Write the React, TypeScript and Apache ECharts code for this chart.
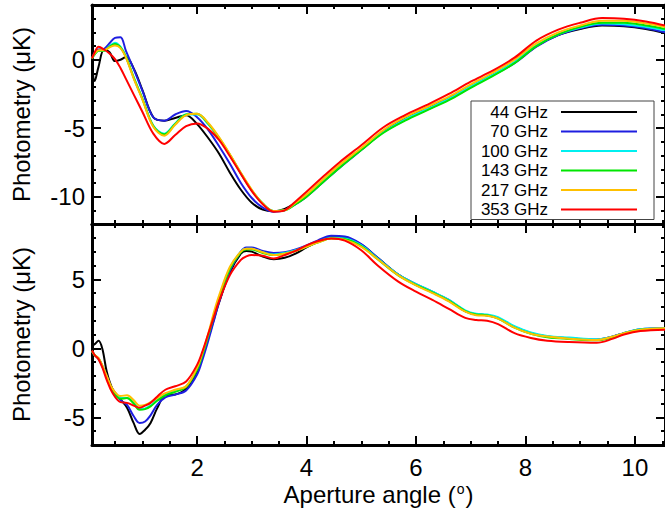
import React, { useEffect, useRef } from 'react';
import * as echarts from 'echarts';

const FREQS = ['44 GHz', '70 GHz', '100 GHz', '143 GHz', '217 GHz', '353 GHz'];
const COLORS = ['#000000', '#1e1ee0', '#00f0f0', '#00e600', '#ffc000', '#ff0000'];

// x ticks
const X_MAJOR = [2, 4, 6, 8, 10];
const X_MINOR = [0.5, 1, 1.5, 2, 2.5, 3, 3.5, 4, 4.5, 5, 5.5, 6, 6.5, 7, 7.5, 8, 8.5, 9, 9.5, 10, 10.5];
const TOP_Y_MAJOR = [-10, -5, 0];
const TOP_Y_MINOR = [-11, -10, -9, -8, -7, -6, -5, -4, -3, -2, -1, 0, 1, 2, 3];
const BOT_Y_MAJOR = [-5, 0, 5];
const BOT_Y_MINOR = [-6, -5, -4, -3, -2, -1, 0, 1, 2, 3, 4, 5, 6, 7, 8];

// Top panel
const topX = [0.08, 0.13, 0.2, 0.3, 0.4, 0.5, 0.6, 0.7, 0.85, 1.0, 1.2, 1.4, 1.6, 1.8, 2.0, 2.2, 2.4, 2.6, 2.8, 3.0, 3.2, 3.4, 3.6, 3.8, 4.0, 4.3, 4.6, 5.0, 5.4, 5.8, 6.2, 6.6, 7.0, 7.4, 7.8, 8.2, 8.6, 9.0, 9.4, 9.8, 10.2, 10.55];
const top44 = [0.1, -1.55, -0.5, 0.75, 0.55, -0.1, 0.0, 0.2, -0.7, -2.2, -4.2, -4.45, -4.25, -4.05, -4.7, -5.7, -6.85, -8.25, -9.5, -10.45, -10.95, -11.07, -10.9, -10.45, -9.9, -8.85, -7.8, -6.55, -5.25, -4.3, -3.55, -2.8, -1.95, -1.1, -0.2, 1.0, 1.8, 2.25, 2.5, 2.45, 2.25, 1.95];
const top70 = [0.1, 0.5, 0.75, 0.8, 1.2, 1.6, 1.65, 0.65, -0.75, -2.25, -4.2, -4.45, -4.0, -3.75, -4.2, -5.1, -6.3, -7.6, -9.0, -10.1, -10.8, -11.1, -11.0, -10.55, -10.0, -8.95, -7.9, -6.6, -5.3, -4.4, -3.65, -2.9, -2.0, -1.15, -0.25, 0.95, 1.8, 2.3, 2.55, 2.5, 2.3, 2.0];
const top100 = [0.1, 0.4, 0.65, 0.65, 1.0, 1.25, 0.95, 0.25, -1.35, -2.8, -4.8, -5.4, -4.65, -4.0, -4.0, -4.7, -5.7, -6.95, -8.3, -9.55, -10.5, -11.05, -11.0, -10.5, -9.95, -8.9, -7.85, -6.55, -5.3, -4.35, -3.6, -2.85, -1.95, -1.1, -0.15, 1.05, 1.85, 2.35, 2.65, 2.6, 2.4, 2.15];
const top143 = [0.1, 0.4, 0.65, 0.65, 0.95, 1.15, 0.9, 0.2, -1.4, -2.85, -4.85, -5.45, -4.7, -4.0, -3.95, -4.65, -5.7, -6.95, -8.3, -9.55, -10.5, -11.05, -11.0, -10.55, -10.0, -8.95, -7.9, -6.6, -5.35, -4.45, -3.7, -2.95, -2.05, -1.2, -0.25, 1.0, 1.85, 2.4, 2.7, 2.7, 2.5, 2.25];
const top217 = [0.1, 0.45, 0.7, 0.7, 0.9, 1.05, 0.85, 0.15, -1.45, -2.9, -4.9, -5.55, -4.75, -4.05, -3.95, -4.6, -5.65, -6.9, -8.25, -9.5, -10.5, -11.05, -11.0, -10.45, -9.85, -8.75, -7.7, -6.45, -5.15, -4.2, -3.45, -2.7, -1.8, -0.95, 0.0, 1.2, 2.0, 2.5, 2.85, 2.85, 2.65, 2.4];
const top353 = [0.1, 0.55, 0.95, 0.75, 0.45, 0.05, -0.6, -1.4, -2.6, -3.8, -5.4, -6.15, -5.5, -4.85, -4.65, -5.05, -5.85, -7.05, -8.35, -9.6, -10.55, -11.1, -11.0, -10.35, -9.65, -8.55, -7.5, -6.25, -4.95, -4.05, -3.3, -2.5, -1.6, -0.8, 0.15, 1.4, 2.2, 2.7, 3.05, 3.0, 2.8, 2.5];

// Bottom panel
const botX = [0.08, 0.13, 0.2, 0.27, 0.35, 0.45, 0.6, 0.72, 0.84, 0.95, 1.05, 1.15, 1.27, 1.42, 1.6, 1.8, 2.0, 2.1, 2.2, 2.3, 2.4, 2.6, 2.8, 2.9, 3.0, 3.2, 3.4, 3.6, 3.8, 4.0, 4.2, 4.45, 4.7, 5.0, 5.3, 5.67, 6.0, 6.3, 6.6, 6.9, 7.1, 7.3, 7.5, 7.8, 8.1, 8.4, 8.8, 9.3, 9.6, 9.8, 10.1, 10.55];
const bot44 = [0.2, 0.3, 0.55, -0.05, -1.7, -2.9, -3.7, -4.3, -5.4, -6.2, -5.9, -5.4, -4.35, -3.4, -3.35, -2.9, -1.7, -0.6, 0.7, 2.0, 3.3, 5.5, 6.85, 7.05, 7.0, 6.65, 6.45, 6.55, 6.85, 7.3, 7.7, 8.05, 8.0, 7.5, 6.55, 5.35, 4.6, 4.05, 3.45, 2.7, 2.45, 2.4, 2.2, 1.55, 1.1, 0.85, 0.72, 0.62, 0.85, 1.1, 1.35, 1.45];
const bot70 = [-0.2, -0.5, -0.75, -1.3, -2.0, -3.0, -3.75, -4.1, -4.9, -5.4, -5.3, -4.85, -4.1, -3.55, -3.35, -3.05, -1.9, -0.8, 0.5, 1.9, 3.3, 5.6, 7.0, 7.3, 7.3, 7.05, 6.9, 6.95, 7.15, 7.45, 7.8, 8.15, 8.1, 7.55, 6.55, 5.35, 4.65, 4.1, 3.5, 2.7, 2.45, 2.4, 2.2, 1.55, 1.1, 0.85, 0.72, 0.62, 0.85, 1.1, 1.38, 1.45];
const bot100 = [-0.2, -0.5, -0.75, -1.3, -2.1, -3.0, -3.6, -3.6, -3.9, -4.4, -4.35, -4.15, -3.75, -3.35, -3.1, -2.75, -1.5, -0.4, 0.9, 2.3, 3.6, 5.8, 7.0, 7.2, 7.2, 6.95, 6.8, 6.9, 7.1, 7.4, 7.7, 8.0, 7.95, 7.45, 6.5, 5.35, 4.65, 4.1, 3.5, 2.75, 2.5, 2.45, 2.25, 1.6, 1.15, 0.9, 0.78, 0.65, 0.85, 1.1, 1.38, 1.45];
const bot143 = [-0.2, -0.5, -0.75, -1.3, -2.1, -3.0, -3.65, -3.6, -4.0, -4.45, -4.4, -4.2, -3.8, -3.4, -3.15, -2.8, -1.55, -0.45, 0.85, 2.25, 3.55, 5.75, 6.95, 7.15, 7.15, 6.9, 6.75, 6.85, 7.05, 7.35, 7.65, 7.95, 7.9, 7.4, 6.45, 5.3, 4.6, 4.05, 3.45, 2.7, 2.45, 2.4, 2.15, 1.5, 1.05, 0.8, 0.68, 0.58, 0.8, 1.08, 1.35, 1.42];
const bot217 = [-0.2, -0.5, -0.7, -1.25, -2.0, -2.9, -3.45, -3.4, -3.75, -4.15, -4.1, -3.9, -3.6, -3.25, -3.0, -2.75, -1.4, -0.3, 1.0, 2.5, 3.8, 5.9, 7.0, 7.2, 7.2, 6.95, 6.75, 6.85, 7.05, 7.35, 7.65, 7.95, 7.85, 7.35, 6.45, 5.3, 4.55, 4.0, 3.4, 2.65, 2.4, 2.35, 2.15, 1.5, 1.05, 0.85, 0.7, 0.6, 0.85, 1.1, 1.35, 1.45];
const bot353 = [-0.15, -0.5, -0.8, -1.4, -2.3, -3.2, -3.9, -3.95, -4.15, -4.3, -4.15, -3.95, -3.5, -3.0, -2.75, -2.4, -1.2, -0.2, 1.0, 2.2, 3.4, 5.3, 6.4, 6.65, 6.75, 6.7, 6.5, 6.75, 7.05, 7.45, 7.75, 7.95, 7.8, 7.1, 6.0, 4.85, 4.1, 3.5, 2.85, 2.2, 2.05, 2.0, 1.75, 1.1, 0.75, 0.55, 0.45, 0.4, 0.7, 1.0, 1.25, 1.35];

const TOP_SERIES = [top44, top70, top100, top143, top217, top353];
const BOT_SERIES = [bot44, bot70, bot100, bot143, bot217, bot353];

const FONT = '"Liberation Sans", Arial, Helvetica, sans-serif';
const X_MIN = 0.08;
const X_MAX = 10.55;

function xAxis(gridIndex: number, position: string, ticks: number[], len: number, showLine: boolean, labels: boolean) {
  const ax: any = {
    type: 'value', gridIndex, position, min: X_MIN, max: X_MAX,
    axisLine: { show: showLine, onZero: false, lineStyle: { color: '#000', width: 3 } },
    axisTick: { show: true, inside: true, length: len, customValues: ticks, lineStyle: { color: '#000', width: 2 } },
    axisLabel: labels
      ? { show: true, customValues: X_MAJOR, color: '#000', fontSize: 24, fontFamily: FONT, margin: 10 }
      : { show: false },
    splitLine: { show: false },
  };
  if (labels) {
    ax.name = '{a|Aperture angle (}{s|o}{a|)}';
    ax.nameLocation = 'middle';
    ax.nameGap = 37;
    ax.nameTextStyle = {
      color: '#000', fontSize: 24, fontFamily: FONT,
      rich: {
        a: { fontSize: 24, fontFamily: FONT, color: '#000' },
        s: { fontSize: 14, fontFamily: FONT, color: '#000', verticalAlign: 'top', padding: [0, 1, 0, 1] },
      },
    };
  }
  return ax;
}

function yAxis(gridIndex: number, position: string, min: number, max: number, ticks: number[], len: number, showLine: boolean, labels: number[] | null) {
  const ax: any = {
    type: 'value', gridIndex, position, min, max,
    axisLine: { show: showLine, onZero: false, lineStyle: { color: '#000', width: 3 } },
    axisTick: { show: true, inside: true, length: len, customValues: ticks, lineStyle: { color: '#000', width: 2 } },
    axisLabel: labels
      ? { show: true, customValues: labels, color: '#000', fontSize: 24, fontFamily: FONT, margin: 7 }
      : { show: false },
    splitLine: { show: false },
  };
  if (labels) {
    ax.name = 'Photometry (μK)';
    ax.nameLocation = 'middle';
    ax.nameGap = 59;
    ax.nameTextStyle = { color: '#000', fontSize: 24, fontFamily: FONT };
  }
  return ax;
}

function buildOption() {
  const xAxes = [
    xAxis(0, 'bottom', X_MAJOR, 9, true, false),
    xAxis(0, 'bottom', X_MINOR, 4, false, false),
    xAxis(0, 'top', X_MAJOR, 9, true, false),
    xAxis(0, 'top', X_MINOR, 4, false, false),
    xAxis(1, 'bottom', X_MAJOR, 9, true, true),
    xAxis(1, 'bottom', X_MINOR, 4, false, false),
    xAxis(1, 'top', X_MAJOR, 9, true, false),
    xAxis(1, 'top', X_MINOR, 4, false, false),
  ];
  const yAxes = [
    yAxis(0, 'left', -12, 4, TOP_Y_MAJOR, 9, true, TOP_Y_MAJOR),
    yAxis(0, 'left', -12, 4, TOP_Y_MINOR, 4, false, null),
    yAxis(0, 'right', -12, 4, TOP_Y_MAJOR, 9, true, null),
    yAxis(0, 'right', -12, 4, TOP_Y_MINOR, 4, false, null),
    yAxis(1, 'left', -7, 9, BOT_Y_MAJOR, 9, true, BOT_Y_MAJOR),
    yAxis(1, 'left', -7, 9, BOT_Y_MINOR, 4, false, null),
    yAxis(1, 'right', -7, 9, BOT_Y_MAJOR, 9, true, null),
    yAxis(1, 'right', -7, 9, BOT_Y_MINOR, 4, false, null),
  ];
  const series: any[] = [];
  FREQS.forEach((name, k) => {
    series.push({
      type: 'line', name, xAxisIndex: 0, yAxisIndex: 0,
      data: topX.map((x, i) => [x, TOP_SERIES[k][i]]),
      smooth: 0.35, showSymbol: false, symbol: 'none',
      lineStyle: { color: COLORS[k], width: 2 }, itemStyle: { color: COLORS[k] },
      z: 2 + k,
    });
    series.push({
      type: 'line', name, xAxisIndex: 4, yAxisIndex: 4,
      data: botX.map((x, i) => [x, BOT_SERIES[k][i]]),
      smooth: 0.35, showSymbol: false, symbol: 'none',
      lineStyle: { color: COLORS[k], width: 2 }, itemStyle: { color: COLORS[k] },
      z: 2 + k,
    });
  });
  return {
    animation: false,
    backgroundColor: '#fff',
    grid: [
      { left: 92, right: -3, top: 5, height: 219 },
      { left: 92, right: -3, top: 224, height: 221 },
    ],
    xAxis: xAxes,
    yAxis: yAxes,
    legend: {
      orient: 'vertical', left: 471, top: 101, align: 'right', icon: 'rect',
      itemWidth: 76, itemHeight: 2, itemGap: 1.5, selectedMode: false,
      padding: [2, 17, 1, 5], borderColor: '#444', borderWidth: 1, backgroundColor: '#fff',
      data: FREQS,
      formatter: (n: string) => `{a|${n}}`,
      textStyle: {
        color: '#000', fontSize: 17, fontFamily: FONT, lineHeight: 18,
        rich: { a: { width: 72, align: 'right', fontSize: 17, fontFamily: FONT, color: '#000', lineHeight: 18, padding: [0, 8, 0, 0] } },
      },
      z: 10,
    },
    series,
  };
}

export default function App() {
  const ref = useRef<HTMLDivElement>(null);
  useEffect(() => {
    const chart = echarts.init(ref.current!, null, { renderer: 'svg' });
    chart.setOption(buildOption());
    return () => chart.dispose();
  }, []);
  return <div ref={ref} style={{ position: 'absolute', left: 0, top: 0, width: 665, height: 513 }} />;
}
